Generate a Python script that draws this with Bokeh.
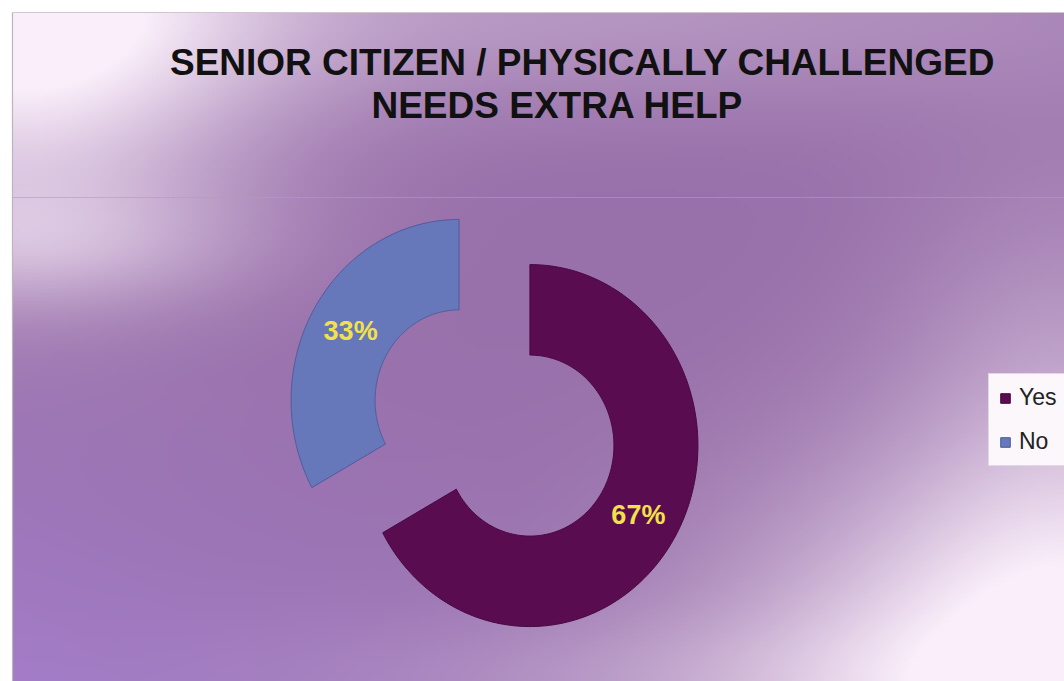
import numpy as np
from bokeh.plotting import figure
from bokeh.models import Range1d, Label, Legend, LegendItem
from bokeh.embed import file_html
from bokeh.resources import INLINE

# ---------------- data ----------------
categories = ["Yes", "No"]
values = [67, 33]
slice_colors = ["#5a0c50", "#6677ba"]
edge_colors = ["#480842", "#4d5c9c"]
title_lines = ["SENIOR CITIZEN / PHYSICALLY CHALLENGED", "NEEDS EXTRA HELP"]

# ---------------- layout constants ----------------
W, H = 1064, 681
SX, SY = 168.0, 181.0          # px per data unit (x, y) -> slightly stretched vertically
CX, CY = 494.0, 422.5          # pixel position of donut centre
INNER = 0.5
EXPLODE = 0.245

def px2x(px):
    return (px - CX) / SX

def px2y(py):
    return (CY - py) / SY

p = figure(width=W, height=H, output_backend="svg", toolbar_location=None,
           x_range=Range1d(px2x(0), px2x(W)), y_range=Range1d(px2y(H), px2y(0)),
           min_border=0, border_fill_color="white", background_fill_color="white",
           outline_line_color=None)
p.axis.visible = False
p.grid.visible = False

# ---------------- background gradient ----------------
GW, GH = 263, 167
x0p, y0p = 12.0, 12.0
xs = x0p + (np.arange(GW) + 0.5) * (W - x0p) / GW
ys = y0p + (np.arange(GH) + 0.5) * (H - y0p) / GH
X, Y = np.meshgrid(xs, ys)

def blob(cx, cy, sx, sy, a):
    return a * np.exp(-(((X - cx) / sx) ** 2 + ((Y - cy) / sy) ** 2) / 2.0)

base = np.zeros((GH, GW, 3))
P1 = np.array([152, 112, 170.0])     # core purple
P2 = np.array([162, 124, 200.0])     # lavender bottom-left
t = np.clip((Y - 300) / 381.0, 0, 1) * np.clip(1 - X / 700.0, 0, 1)
for k in range(3):
    base[..., k] = P1[k] * (1 - t) + P2[k] * t

w = (blob(20, 20, 170, 150, 1.0)
     + blob(500, 10, 520, 70, 0.3)
     + blob(30, 245, 150, 45, 0.35)
     + blob(1064, 681, 230, 150, 1.05)
     + blob(1064, 420, 120, 170, 0.32)
     + blob(650, 681, 260, 50, 0.2))
w = np.clip(w, 0, 1)
white = np.array([250, 238, 250.0])
img = np.zeros((GH, GW), dtype=np.uint32)
view = img.view(dtype=np.uint8).reshape((GH, GW, 4))
for k in range(3):
    view[..., k] = np.clip(base[..., k] * (1 - w) + white[k] * w, 0, 255).astype(np.uint8)
view[..., 3] = 255
img = np.flipud(img)
p.image_rgba(image=[img], x=px2x(x0p), y=px2y(H), dw=px2x(W) - px2x(x0p),
             dh=px2y(y0p) - px2y(H))

# chart frame lines
p.line([px2x(12), px2x(12)], [px2y(12), px2y(H)], line_color="#bdb4bd", line_width=1.2)
p.line([px2x(12), px2x(W)], [px2y(12), px2y(12)], line_color="#cfc6cf", line_width=1.2)
p.line([px2x(12), px2x(W)], [px2y(197), px2y(197)], line_color="#b79ab9", line_width=1, line_alpha=0.6)

# ---------------- donut ----------------
total = float(sum(values))
renderers = []
cum = 0.0
for cat, v, col, ecol in zip(categories, values, slice_colors, edge_colors):
    a0 = 2 * np.pi * cum / total
    a1 = 2 * np.pi * (cum + v) / total
    cum += v
    mid = (a0 + a1) / 2
    ox, oy = EXPLODE * np.sin(mid), EXPLODE * np.cos(mid)
    th = np.linspace(a0, a1, 200)
    xo = ox + np.sin(th)
    yo = oy + np.cos(th)
    xi = ox + INNER * np.sin(th[::-1])
    yi = oy + INNER * np.cos(th[::-1])
    px_ = np.concatenate([xo, xi])
    py_ = np.concatenate([yo, yi])
    r = p.patch(px_, py_, fill_color=col, line_color=ecol, line_width=1)
    renderers.append((cat, r))
    lr = (1 + INNER) / 2
    lab = Label(x=ox + lr * np.sin(mid), y=oy + lr * np.cos(mid),
                text=f"{round(100 * v / total)}%", text_align="center",
                text_baseline="middle", text_color="#f2e24a",
                text_font="Liberation Sans", text_font_size="27px",
                text_font_style="bold")
    p.add_layout(lab)

# ---------------- titles ----------------
for txt, (tx, ty) in zip(title_lines, [(582, 62), (557, 105)]):
    p.add_layout(Label(x=px2x(tx), y=px2y(ty), text=txt, text_align="center",
                       text_baseline="middle", text_color="#111111",
                       text_font="Liberation Sans", text_font_size="37px",
                       text_font_style="bold"))

# ---------------- legend ----------------
legend = Legend(items=[LegendItem(label=c, renderers=[r]) for c, r in renderers],
                location=(988, 681 - 466), orientation="vertical",
                label_text_font="Liberation Sans", label_text_font_size="23px",
                label_text_color="#222222", glyph_width=12, glyph_height=12,
                label_height=26, spacing=17, padding=10, margin=0,
                label_standoff=8,
                background_fill_color="#fbf7fb", background_fill_alpha=1.0,
                border_line_color="#bfbfbf", border_line_width=1)
p.add_layout(legend)

open("out.html", "w").write(file_html(p, INLINE))
